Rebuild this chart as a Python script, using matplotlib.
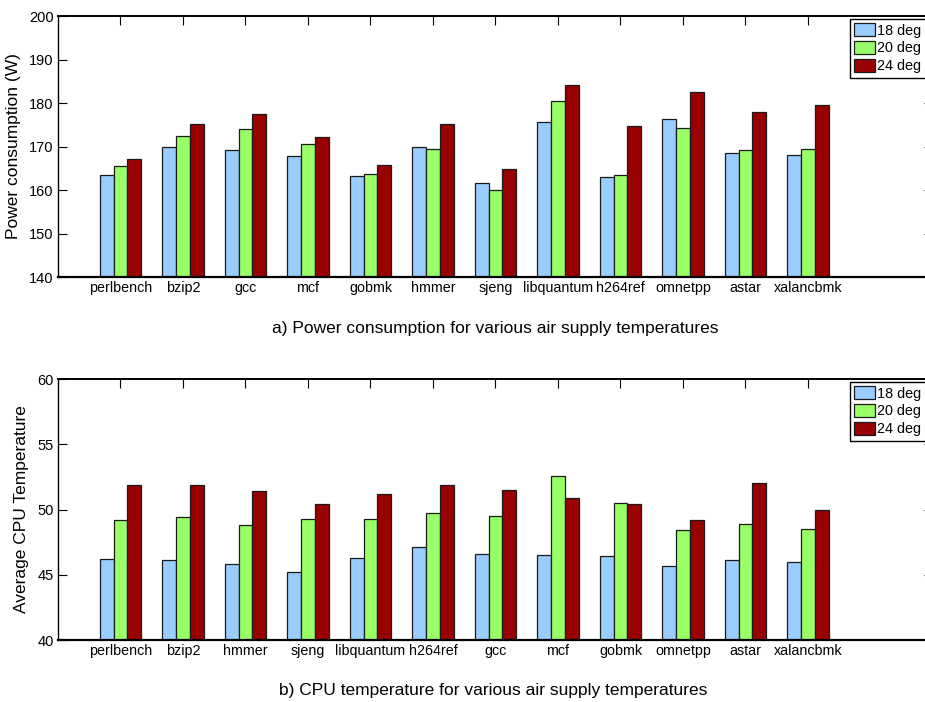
import numpy as np
import matplotlib
matplotlib.use("Agg")
import matplotlib.pyplot as plt

plt.rcParams['font.family'] = ['Liberation Sans', 'DejaVu Sans']

# benchmarks for each panel (order differs between the two panels)
power_bench = ["perlbench", "bzip2", "gcc", "mcf", "gobmk", "hmmer", "sjeng",
               "libquantum", "h264ref", "omnetpp", "astar", "xalancbmk"]
temp_bench = ["perlbench", "bzip2", "hmmer", "sjeng", "libquantum", "h264ref",
              "gcc", "mcf", "gobmk", "omnetpp", "astar", "xalancbmk"]

series_labels = ["18 deg", "20 deg", "24 deg"]

# power consumption (W)
power_18 = [163.4, 169.8, 169.3, 167.8, 163.3, 170.0, 161.5, 175.6, 163.1, 176.4, 168.4, 168.0]
power_20 = [165.5, 172.5, 174.1, 170.6, 163.6, 169.4, 160.1, 180.5, 163.5, 174.3, 169.3, 169.5]
power_24 = [167.1, 175.2, 177.4, 172.1, 165.7, 175.2, 164.9, 184.2, 174.8, 182.6, 177.9, 179.5]

# average CPU temperature
temp_18 = [46.2, 46.1, 45.8, 45.2, 46.3, 47.1, 46.6, 46.5, 46.4, 45.7, 46.1, 46.0]
temp_20 = [49.2, 49.4, 48.8, 49.3, 49.3, 49.7, 49.5, 52.6, 50.5, 48.4, 48.9, 48.5]
temp_24 = [51.9, 51.9, 51.4, 50.4, 51.2, 51.9, 51.5, 50.9, 50.4, 49.2, 52.0, 50.0]

colors = ["#99ccff", "#99ff66", "#990000"]


def grouped_bars(ax, names, series, ylim, yticks, ylabel):
    x = np.arange(1, len(names) + 1)
    w = 0.222
    for i, (vals, col, lab) in enumerate(zip(series, colors, series_labels)):
        base = ylim[0]
        ax.bar(x + (i - 1) * w, np.array(vals) - base, bottom=base, width=w,
               color=col, edgecolor="#1a1a1a", linewidth=0.9, label=lab, zorder=2)
    ax.set_xlim(0, 14)
    ax.set_ylim(*ylim)
    ax.set_xticks(x)
    ax.set_xticklabels(names, fontsize=10.3)
    ax.set_yticks(yticks)
    ax.tick_params(axis="y", labelsize=10.5)
    ax.tick_params(axis="both", which="both", direction="in", top=True,
                   right=True, length=6.3, width=0.8, pad=3)
    for s in ax.spines.values():
        s.set_linewidth(1.0)
    ax.spines["bottom"].set_linewidth(1.6)
    ax.spines["top"].set_linewidth(1.4)
    ax.set_ylabel(ylabel, fontsize=12.5, labelpad=6)
    leg = ax.legend(loc="upper left", bbox_to_anchor=(0.905, 0.988),
                    borderaxespad=0, fontsize=10.4, fancybox=False, framealpha=1,
                    edgecolor="black", handlelength=1.45, handleheight=0.95,
                    handletextpad=0.15, labelspacing=0.25, borderpad=0.3)
    leg.get_frame().set_linewidth(1.0)


fig = plt.figure(figsize=(9.25, 7.02), dpi=100)

ax1 = fig.add_axes([0.0627, 0.6054, 0.9459, 0.3718])
grouped_bars(ax1, power_bench, [power_18, power_20, power_24], (140, 200),
             np.arange(140, 201, 10), "Power consumption (W)")

ax2 = fig.add_axes([0.0627, 0.0883, 0.9459, 0.3718])
grouped_bars(ax2, temp_bench, [temp_18, temp_20, temp_24], (40, 60),
             np.arange(40, 61, 5), "Average CPU Temperature")

fig.text(0.535, 1 - 329 / 702, "a) Power consumption for various air supply temperatures",
         ha="center", va="center", fontsize=12.5)
fig.text(0.533, 1 - 690 / 702, "b) CPU temperature for various air supply temperatures",
         ha="center", va="center", fontsize=12.5)

fig.savefig("out.png", dpi=100)
